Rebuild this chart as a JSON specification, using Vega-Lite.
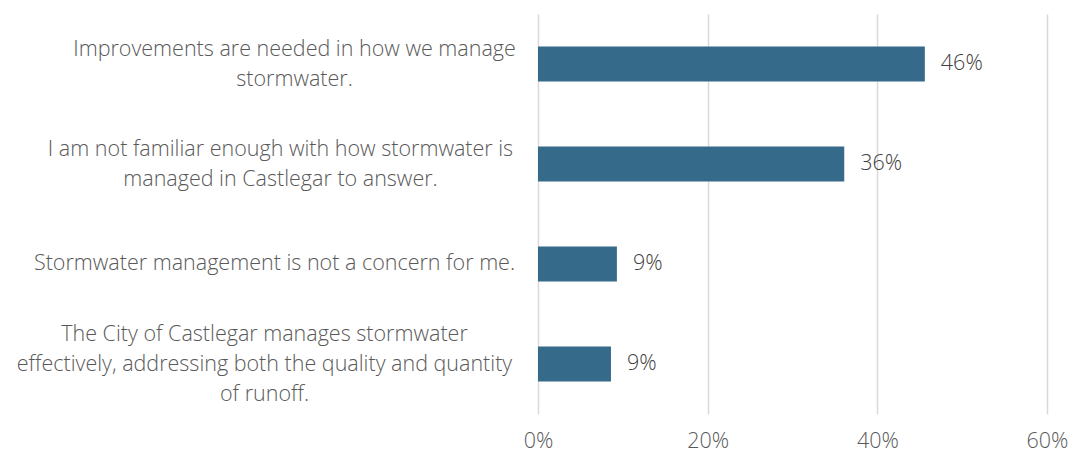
{
  "$schema": "https://vega.github.io/schema/vega-lite/v6.json",
  "width": 509,
  "height": 400,
  "autosize": "none",
  "padding": {"left": 538, "top": 14, "right": 22, "bottom": 39},
  "background": "white",
  "config": {"view": {"stroke": null}, "font": "Open Sans"},
  "data": {"values": [
    {"answer": "Improvements are needed in how we manage|stormwater.", "share": 0.456},
    {"answer": "I am not familiar enough with how stormwater is|managed in Castlegar to answer.", "share": 0.361},
    {"answer": "Stormwater management is not a concern for me.", "share": 0.093},
    {"answer": "The City of Castlegar manages stormwater|effectively, addressing both the quality and quantity|of runoff.", "share": 0.086}
  ]},
  "encoding": {
    "y": {"field": "answer", "type": "nominal", "sort": null,
      "scale": {"paddingInner": 0.65, "paddingOuter": 0.325},
      "axis": {"title": null, "domain": false, "ticks": false, "labelExpr": "split(datum.label, '|')",
        "labelFontSize": 21.5, "labelColor": "#595959", "labelLimit": 700,
        "labelLineHeight": 30, "labelAlign": "center", "labelFontWeight": 300,
        "labelPadding": {"condition": [
          {"test": "indexof(datum.label, 'Improvements') == 0", "value": 244},
          {"test": "indexof(datum.label, 'I am not') == 0", "value": 258},
          {"test": "indexof(datum.label, 'The City') == 0", "value": 274}
        ], "value": 264},
        "labelOffset": {"condition": [
          {"test": "indexof(datum.label, 'The City') == 0", "value": -29},
          {"test": "indexof(datum.label, '|') >= 0", "value": -14}
        ], "value": 0}}},
    "x": {"field": "share", "type": "quantitative",
      "scale": {"domain": [0, 0.6], "nice": false},
      "axis": {"title": null, "format": ".0%", "values": [0, 0.2, 0.4, 0.6], "domain": false, "ticks": false,
        "labelFlush": false, "labelOverlap": false,
        "gridColor": "#d9d9d9", "gridWidth": 1.5, "labelFontSize": 21.5, "labelColor": "#595959",
        "labelPadding": 16, "labelFontWeight": 300}}
  },
  "layer": [
    {"mark": {"type": "bar", "color": "#356a8b"}},
    {"mark": {"type": "text", "align": "left", "dx": 16, "fontSize": 21.5, "color": "#404040", "fontWeight": 300},
     "encoding": {"text": {"field": "share", "type": "quantitative", "format": ".0%"}}}
  ]
}
